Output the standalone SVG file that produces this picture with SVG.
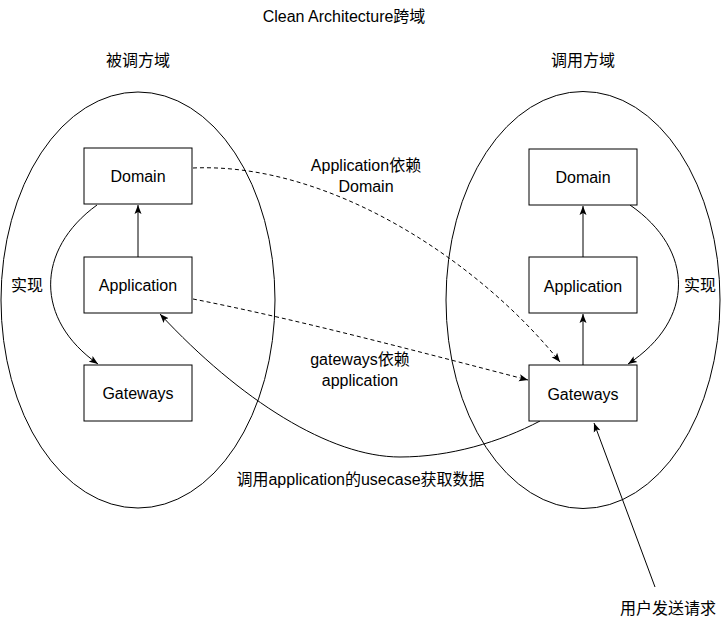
<svg xmlns="http://www.w3.org/2000/svg" width="722" height="623" viewBox="0 0 722 623">
<style>
text{font-family:"Liberation Sans","Noto Sans CJK SC",sans-serif;font-size:16px;fill:#000;text-anchor:middle}
.box{fill:#fff;stroke:#000;stroke-width:1}
.region{fill:none;stroke:#000;stroke-width:1}
.edge{fill:none;stroke:#000;stroke-width:1}
.dash{stroke-dasharray:4 3}
</style>
<defs>
<marker id="arrow" viewBox="0 0 9 8" refX="9" refY="4" markerWidth="9" markerHeight="8" markerUnits="userSpaceOnUse" orient="auto">
<path d="M0,0.5 L9,4 L0,7.5 L2,4 z" fill="#000"/>
</marker>
</defs>
<rect width="722" height="623" fill="#fff"/>
<text x="344" y="22">Clean Architecture跨域</text>
<g id="callee-domain">
<ellipse class="region" cx="138" cy="300" rx="137" ry="208"/>
<text x="138" y="66">被调方域</text>
</g>
<g id="caller-domain">
<ellipse class="region" cx="583" cy="300" rx="137" ry="208.5"/>
<text x="583" y="66">调用方域</text>
</g>
<g id="connectors">
<path class="edge" marker-end="url(#arrow)" d="M138,257 L138,205"/>
<path class="edge" marker-end="url(#arrow)" d="M97,205 C35,250 35,320 98,364"/>
<path class="edge" marker-end="url(#arrow)" d="M583,257 L583,206"/>
<path class="edge" marker-end="url(#arrow)" d="M583,365 L583,314"/>
<path class="edge" marker-end="url(#arrow)" d="M630,205 C695,250 695,320 628,364"/>
<path class="edge dash" marker-end="url(#arrow)" d="M193,168 C330,162 480,262 560,362"/>
<path class="edge dash" marker-end="url(#arrow)" d="M193,299 C300,320 420,352 528,380"/>
<path class="edge" marker-end="url(#arrow)" d="M540,421 C500,442 450,457 400,457 C330,457 240,400 160,314"/>
<path class="edge" marker-end="url(#arrow)" d="M655,587 L594,423"/>
<text x="27" y="291">实现</text>
<text x="700" y="291">实现</text>
<text x="366" y="170.5">Application依赖</text>
<text x="366" y="192">Domain</text>
<text x="360" y="365">gateways依赖</text>
<text x="360" y="386">application</text>
<text x="360.5" y="484.5">调用application的usecase获取数据</text>
<text x="668" y="614">用户发送请求</text>
</g>
<g id="left-domain">
<rect class="box" x="84" y="148" width="108" height="56"/>
<text x="138" y="182">Domain</text>
</g>
<g id="left-application">
<rect class="box" x="84" y="257" width="108" height="56"/>
<text x="138" y="290.5">Application</text>
</g>
<g id="left-gateways">
<rect class="box" x="84" y="365" width="108" height="56"/>
<text x="138" y="398.5">Gateways</text>
</g>
<g id="right-domain">
<rect class="box" x="529" y="149" width="108" height="56"/>
<text x="583" y="182.5">Domain</text>
</g>
<g id="right-application">
<rect class="box" x="529" y="257" width="108" height="56"/>
<text x="583" y="291.5">Application</text>
</g>
<g id="right-gateways">
<rect class="box" x="529" y="365" width="108" height="56"/>
<text x="583" y="399.5">Gateways</text>
</g>
</svg>
